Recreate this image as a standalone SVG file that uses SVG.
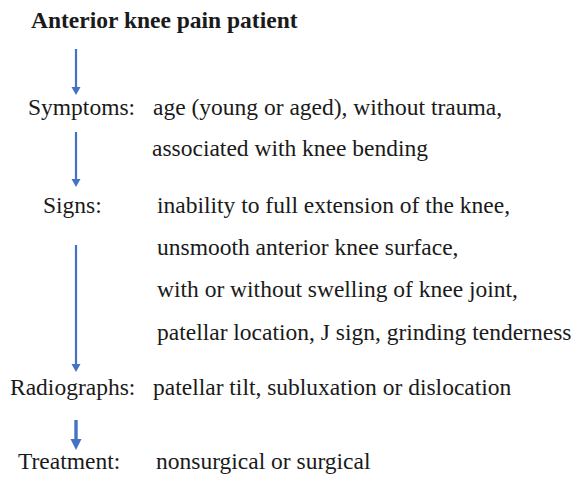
<svg xmlns="http://www.w3.org/2000/svg" width="578" height="482" viewBox="0 0 578 482">
<style>
.c{stroke:#4472c4;stroke-width:2.2;fill:none}
.c2{stroke:#4472c4;stroke-width:3.4;fill:none}
.h{fill:#4472c4}
</style>
<rect width="578" height="482" fill="#fff"/>
<g id="connectors">
<line class="c" x1="76" y1="49" x2="76" y2="88"/>
<polygon class="h" points="71.5,87 80.5,87 76,95"/>
<line class="c" x1="76" y1="132" x2="76" y2="180"/>
<polygon class="h" points="71.5,179 80.5,179 76,187"/>
<line class="c" x1="76" y1="245" x2="76" y2="365"/>
<polygon class="h" points="71.5,364 80.5,364 76,372"/>
<line class="c2" x1="76" y1="420" x2="76" y2="441"/>
<polygon class="h" points="70.5,439 81.5,439 76,450"/>
</g>
<g id="title"><text font-family="Liberation Serif" font-size="23.5" font-weight="bold" fill="#1a1a1a" x="31" y="28">Anterior knee pain patient</text></g>
<g id="symptoms">
<text font-family="Liberation Serif" font-size="23.5" fill="#1a1a1a" x="28" y="115">Symptoms:</text>
<text font-family="Liberation Serif" font-size="23.5" fill="#1a1a1a" x="153" y="115">age (young or aged), without trauma,</text>
<text font-family="Liberation Serif" font-size="23.5" fill="#1a1a1a" x="152" y="156">associated with knee bending</text>
</g>
<g id="signs">
<text font-family="Liberation Serif" font-size="23.5" fill="#1a1a1a" x="43" y="213">Signs:</text>
<text font-family="Liberation Serif" font-size="23.5" fill="#1a1a1a" x="157" y="213">inability to full extension of the knee,</text>
<text font-family="Liberation Serif" font-size="23.5" fill="#1a1a1a" x="157" y="255">unsmooth anterior knee surface,</text>
<text font-family="Liberation Serif" font-size="23.5" fill="#1a1a1a" x="157" y="297">with or without swelling of knee joint,</text>
<text font-family="Liberation Serif" font-size="23.5" fill="#1a1a1a" x="157" y="340">patellar location, J sign, grinding tenderness</text>
</g>
<g id="radiographs">
<text font-family="Liberation Serif" font-size="23.5" fill="#1a1a1a" x="10" y="395">Radiographs:</text>
<text font-family="Liberation Serif" font-size="23.5" fill="#1a1a1a" x="153" y="395">patellar tilt, subluxation or dislocation</text>
</g>
<g id="treatment">
<text font-family="Liberation Serif" font-size="23.5" fill="#1a1a1a" x="18" y="469">Treatment:</text>
<text font-family="Liberation Serif" font-size="23.5" fill="#1a1a1a" x="156" y="469">nonsurgical or surgical</text>
</g>
</svg>
